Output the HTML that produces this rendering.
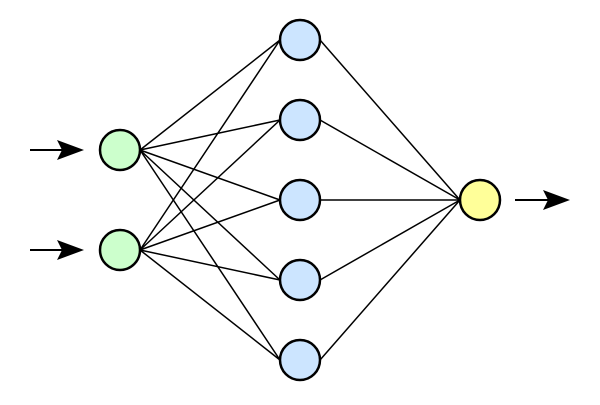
<!DOCTYPE html>
<html><head><style>html,body{margin:0;padding:0;background:#fff}</style></head>
<body>
<svg width="600" height="400" xmlns="http://www.w3.org/2000/svg">
<g stroke="#000" stroke-width="1.5">
<line x1="140" y1="150" x2="280" y2="40"/><line x1="140" y1="150" x2="280" y2="120"/><line x1="140" y1="150" x2="280" y2="200"/><line x1="140" y1="150" x2="280" y2="280"/><line x1="140" y1="150" x2="280" y2="360"/>
<line x1="140" y1="250" x2="280" y2="40"/><line x1="140" y1="250" x2="280" y2="120"/><line x1="140" y1="250" x2="280" y2="200"/><line x1="140" y1="250" x2="280" y2="280"/><line x1="140" y1="250" x2="280" y2="360"/>
<line x1="320" y1="40" x2="460" y2="200"/><line x1="320" y1="120" x2="460" y2="200"/><line x1="320" y1="200" x2="460" y2="200"/><line x1="320" y1="280" x2="460" y2="200"/><line x1="320" y1="360" x2="460" y2="200"/>
<line x1="30" y1="150" x2="65" y2="150" stroke-width="2"/><line x1="30" y1="250" x2="65" y2="250" stroke-width="2"/><line x1="515" y1="200" x2="550" y2="200" stroke-width="2"/>
</g>
<g fill="#000">
<path d="M84,150 L57,140 L62,150 L57,160 Z"/><path d="M84,250 L57,240 L62,250 L57,260 Z"/><path d="M570,200 L543,190 L548,200 L543,210 Z"/>
</g>
<g stroke="#000" stroke-width="2.5">
<circle cx="120" cy="150" r="20" fill="#ccffcc"/><circle cx="120" cy="250" r="20" fill="#ccffcc"/>
<circle cx="300" cy="40" r="20" fill="#cce5ff"/><circle cx="300" cy="120" r="20" fill="#cce5ff"/><circle cx="300" cy="200" r="20" fill="#cce5ff"/><circle cx="300" cy="280" r="20" fill="#cce5ff"/><circle cx="300" cy="360" r="20" fill="#cce5ff"/>
<circle cx="480" cy="200" r="20" fill="#ffff99"/>
</g>
</svg>
</body></html>
